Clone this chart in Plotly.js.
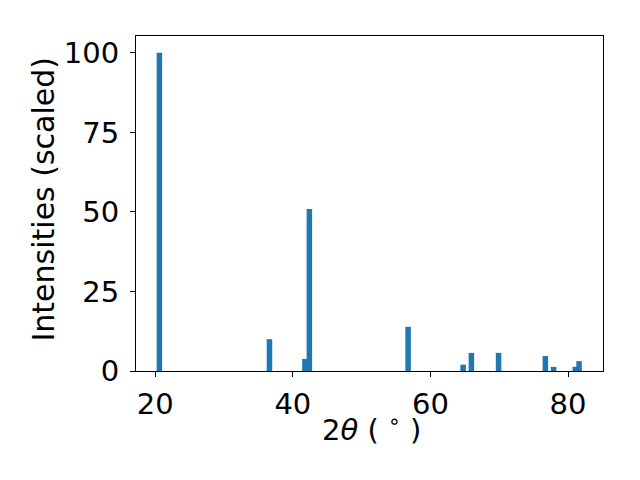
<!DOCTYPE html>
<html>
<head>
<meta charset="utf-8">
<script src="https://cdn.plot.ly/plotly-3.0.1.min.js"></script>
<style>html,body{margin:0;padding:0;background:#fff;}#chart{width:640px;height:480px;}</style>
</head>
<body>
<div id="chart"></div>
<script>
const twoTheta = [20.6, 36.6, 41.75, 42.4, 56.75, 64.75, 65.95, 69.9, 76.7, 77.9, 81.05, 81.6];
const intensity = [100, 10.0, 3.8, 50.9, 13.9, 2.0, 5.7, 5.7, 4.7, 1.3, 1.3, 3.1];
const xTicks = [20, 40, 60, 80];
const yTicks = [0, 25, 50, 75, 100];
const xTitle = '2<i>θ</i> ( <sup>∘</sup> )';
const yTitle = 'Intensities (scaled)';

const font = {family: 'DejaVu Sans', size: 29, color: '#000'};
const yTitleFont = {family: 'DejaVu Sans', size: 30, color: '#000'};
const L = 136, R = 37, T = 36, B = 109, W = 640, H = 480;
const pw = W - L - R, ph = H - T - B;
const px2x = p => (p - L) / pw;
const py2y = p => (H - B - p) / ph;

Plotly.newPlot('chart', [{
  type: 'bar',
  x: twoTheta,
  y: intensity,
  width: 0.8,
  marker: {color: '#1f77b4', line: {width: 0}},
  hoverinfo: 'none'
}], {
  width: W, height: H,
  margin: {l: L, r: R, t: T, b: B},
  paper_bgcolor: '#fff', plot_bgcolor: '#fff',
  font: font,
  showlegend: false,
  xaxis: {
    range: [17.2, 85.08],
    tickvals: xTicks, ticktext: xTicks.map(String),
    ticks: 'outside', ticklen: 5, tickwidth: 1, tickcolor: '#000',
    ticklabelstandoff: 2,
    showline: true, linecolor: '#000', linewidth: 1, mirror: true,
    showgrid: false, zeroline: false,
    automargin: false,
    tickfont: font
  },
  yaxis: {
    range: [0, 105.3],
    tickvals: yTicks, ticktext: yTicks.map(String),
    ticks: 'outside', ticklen: 5, tickwidth: 1, tickcolor: '#000',
    ticklabelstandoff: 5,
    showline: true, linecolor: '#000', linewidth: 1, mirror: true,
    showgrid: false, zeroline: false,
    automargin: false,
    tickfont: font
  },
  annotations: [
    {text: xTitle, xref: 'paper', yref: 'paper', x: px2x(371), y: py2y(428),
     xanchor: 'center', yanchor: 'middle', showarrow: false, font: font},
    {text: yTitle, xref: 'paper', yref: 'paper', x: px2x(43), y: py2y(199.5),
     xanchor: 'center', yanchor: 'middle', textangle: -90, showarrow: false, font: yTitleFont}
  ]
}, {staticPlot: true});
</script>
</body>
</html>
